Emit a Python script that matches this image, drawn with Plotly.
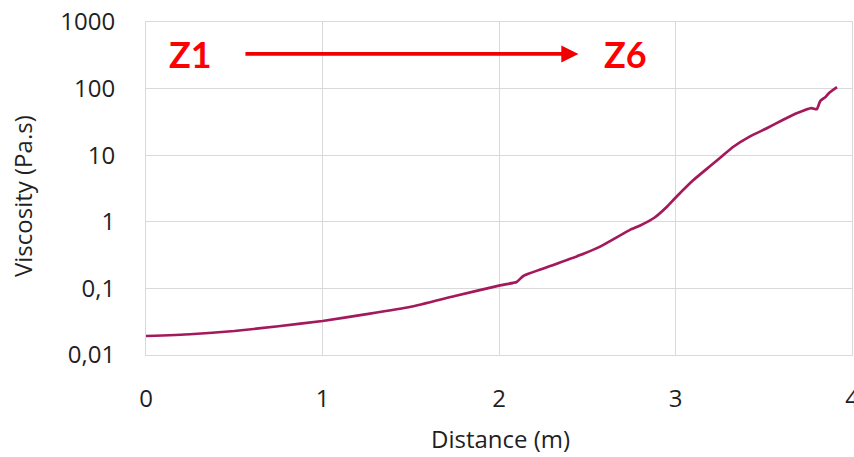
import plotly.graph_objects as go

# Viscosity profile along the screw (distance in m, viscosity in Pa.s)
distance = [0.0, 0.25, 0.5, 0.75, 1.0, 1.25, 1.5, 1.75, 2.0, 2.08, 2.1, 2.14,
            2.3, 2.46, 2.57, 2.74, 2.8, 2.88, 2.95, 3.0, 3.1, 3.2, 3.27, 3.33,
            3.42, 3.52, 3.61, 3.69, 3.77, 3.8, 3.82, 3.85, 3.87, 3.915]
viscosity = [0.0193, 0.0205, 0.0229, 0.027, 0.0324, 0.041, 0.053, 0.077, 0.110,
             0.121, 0.125, 0.155, 0.22, 0.316, 0.42, 0.75, 0.88, 1.15, 1.67,
             2.3, 4.2, 7.0, 10.0, 13.5, 19, 25.6, 34, 43, 51, 49, 65, 75, 86, 105]

x_ticks = [0, 1, 2, 3, 4]
x_labels = ["0", "1", "2", "3", "4"]
y_ticks = [0.01, 0.1, 1, 10, 100, 1000]
y_labels = ["0,01", "0,1", "1", "10", "100", "1000"]

FONT = "'Open Sans', Calibri, sans-serif"
ZFONT = "Lato, Calibri, sans-serif"
GRID = "#D9D9D9"
TXT = "#1f1f1f"

L, R, T, B = 146, 2, 22, 102
W, H = 854, 457
pw, ph = W - L - R, H - T - B

fig = go.Figure()
fig.add_trace(go.Scatter(
    x=distance, y=viscosity, mode="lines",
    line=dict(color="#A3195B", width=2.7, shape="spline", smoothing=0.5),
    showlegend=False, hoverinfo="skip",
))

# Zone labels with the Z1 -> Z6 arrow (log10 y in data space)
zone_y = 2.52
fig.add_annotation(x=0.253, y=zone_y, xref="x", yref="y", text="<b>Z1</b>",
                   showarrow=False, font=dict(family=ZFONT, size=36, color="#FF0000"))
fig.add_annotation(x=2.714, y=zone_y, xref="x", yref="y", text="<b>Z6</b>",
                   showarrow=False, font=dict(family=ZFONT, size=36, color="#FF0000"))
fig.add_annotation(x=2.45, y=zone_y, ax=0.555, ay=zone_y,
                   xref="x", yref="y", axref="x", ayref="y",
                   text="", showarrow=True, arrowhead=2, arrowsize=0.9,
                   arrowwidth=3.8, arrowcolor="#F00000")

# Axis titles
fig.add_annotation(x=(500 - L) / pw, y=(H - B - 438) / ph, xref="paper", yref="paper",
                   text="Distance (m)", showarrow=False,
                   xanchor="center", yanchor="middle",
                   font=dict(family=FONT, size=24, color=TXT))
fig.add_annotation(x=(22 - L) / pw, y=(H - B - 196) / ph, xref="paper", yref="paper",
                   text="Viscosity (Pa.s)", textangle=-90, showarrow=False,
                   xanchor="center", yanchor="middle",
                   font=dict(family=FONT, size=24, color=TXT))

fig.update_layout(
    width=W, height=H,
    margin=dict(l=L, r=R, t=T, b=B, autoexpand=False),
    paper_bgcolor="white", plot_bgcolor="white",
    font=dict(family=FONT, size=24, color=TXT),
)

fig.update_xaxes(
    range=[0, 4], tickvals=x_ticks, ticktext=x_labels,
    showgrid=True, gridcolor=GRID, gridwidth=1,
    showline=True, linecolor=GRID, linewidth=1, mirror=True,
    zeroline=False, ticks="outside", ticklen=22, tickcolor="rgba(0,0,0,0)",
    ticklabeloverflow="allow", automargin=False,
    tickfont=dict(family=FONT, size=24, color=TXT),
)
fig.update_yaxes(
    type="log", range=[-2, 3], tickvals=y_ticks, ticktext=y_labels,
    showgrid=True, gridcolor=GRID, gridwidth=1,
    showline=True, linecolor=GRID, linewidth=1, mirror=True,
    zeroline=False, ticks="outside", ticklen=25, tickcolor="rgba(0,0,0,0)",
    automargin=False,
    tickfont=dict(family=FONT, size=24, color=TXT),
)

fig.write_html("out.html")
